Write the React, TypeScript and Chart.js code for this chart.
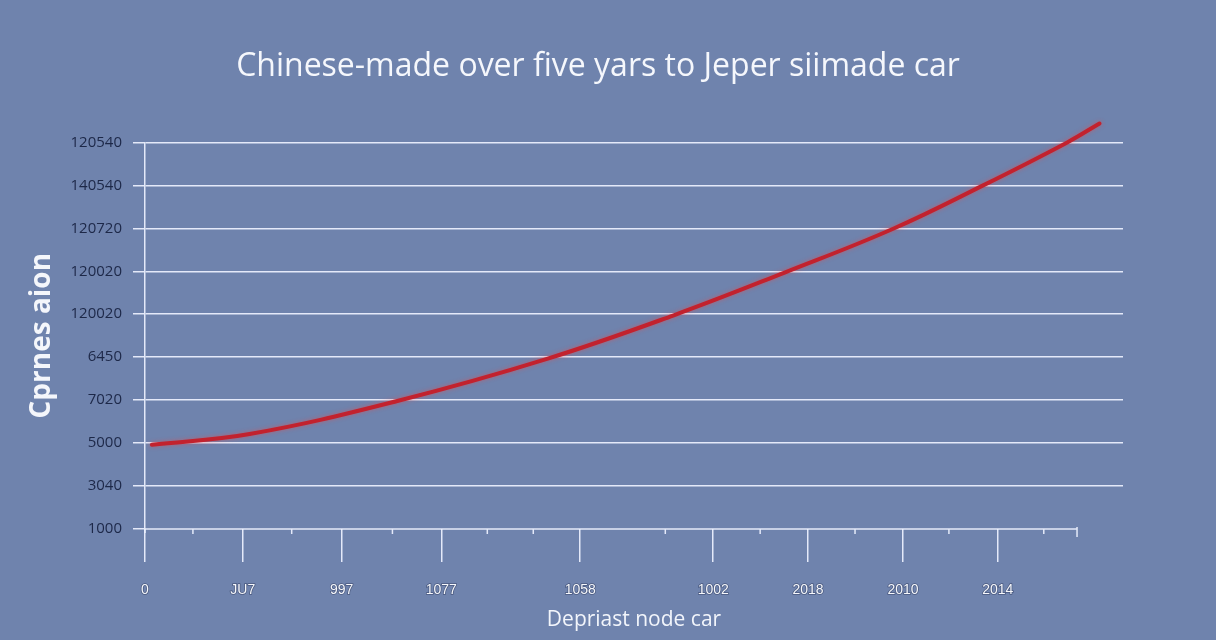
import React, { useEffect, useRef } from "react";
import { Chart, registerables } from "chart.js";

Chart.register(...registerables);

// ---- Data ----
const TITLE = "Chinese-made over five yars to Jeper siimade car";
const Y_TITLE = "Cprnes aion";
const X_TITLE = "Depriast node car";

// y tick labels, bottom to top (one per grid step)
const yTickLabels = ["1000", "3040", "5000", "7020", "6450", "120020", "120020", "120720", "140540", "120540"];

// x major ticks (position on the axis scale) and their labels
const xTickValues = [0, 1.0, 2.01, 3.03, 4.45, 5.81, 6.78, 7.75, 8.72];
const xTickLabels = ["0", "JU7", "997", "1077", "1058", "1002", "2018", "2010", "2014"];
// x minor ticks
const xMinorTicks = [0.49, 1.5, 2.53, 3.5, 3.97, 5.32, 6.29, 7.26, 8.22, 9.19];
const X_AXIS_END = 9.53;

// series (x position on axis scale, y in grid-step units)
const seriesX = [0.07, 1.07, 2.58, 4.11, 5.4, 6.54, 7.65, 8.57, 9.43, 9.76];
const seriesY = [1.96, 2.21, 2.98, 3.96, 4.97, 5.97, 6.99, 8.0, 9.0, 9.44];

const BG = "#6f83ad";
const GRID = "rgba(238,242,255,0.92)";

const xAxisDecor = {
  id: "xAxisDecor",
  beforeDatasetsDraw(chart: any) {
    const { ctx, scales } = chart;
    const x = scales.x;
    const y = scales.y;
    const yb = y.getPixelForValue(0);
    ctx.save();
    ctx.strokeStyle = GRID;
    ctx.lineWidth = 1.5;
    ctx.beginPath();
    ctx.moveTo(x.getPixelForValue(0), yb);
    ctx.lineTo(x.getPixelForValue(X_AXIS_END), yb);
    for (const v of xMinorTicks) {
      const px = x.getPixelForValue(v);
      ctx.moveTo(px, yb);
      ctx.lineTo(px, yb + 5);
    }
    const pe = x.getPixelForValue(X_AXIS_END);
    ctx.moveTo(pe, yb - 2);
    ctx.lineTo(pe, yb + 8);
    const px0 = x.getPixelForValue(0);
    ctx.moveTo(px0, yb);
    ctx.lineTo(px0, yb + 4);
    ctx.stroke();
    ctx.restore();
  },
  beforeDatasetDraw(chart: any) {
    const ctx = chart.ctx;
    ctx.save();
    ctx.shadowColor = "rgba(235,70,70,0.55)";
    ctx.shadowBlur = 4;
  },
  afterDatasetDraw(chart: any) {
    chart.ctx.restore();
  },
};

export default function App() {
  const ref = useRef<HTMLCanvasElement>(null);

  useEffect(() => {
    if (!ref.current) return;
    const chart = new Chart(ref.current, {
      type: "line",
      data: {
        datasets: [
          {
            data: seriesX.map((v, i) => ({ x: v, y: seriesY[i] })),
            borderColor: "#c2222e",
            borderWidth: 4,
            pointRadius: 0,
            tension: 0.4,
            clip: false as any,
            borderCapStyle: "round",
          },
        ],
      },
      plugins: [xAxisDecor],
      options: {
        animation: false,
        responsive: false,
        devicePixelRatio: 1,
        layout: { padding: { left: 0, right: 20, top: 0, bottom: 0 } },
        plugins: {
          legend: { display: false },
          tooltip: { enabled: false },
          title: {
            display: true,
            text: TITLE,
            color: "#f5f7fc",
            font: { family: "'Open Sans', sans-serif", size: 32, weight: "normal" },
            padding: { top: 48, bottom: 56 },
          },
        },
        scales: {
          x: {
            type: "linear",
            min: 0,
            max: 10,
            afterBuildTicks: (s: any) => {
              s.ticks = xTickValues.map((v) => ({ value: v }));
            },
            afterFit: (s: any) => {
              s.height = 111;
            },
            ticks: {
              autoSkip: false,
              maxRotation: 0,
              padding: 20,
              color: "#f6f8fc",
              textStrokeColor: "rgba(35,45,80,0.5)",
              textStrokeWidth: 1.5,
              font: { family: "'Liberation Sans', sans-serif", size: 14 },
              callback: (_v: any, i: number) => xTickLabels[i],
            },
            grid: {
              drawOnChartArea: false,
              tickLength: 33,
              color: GRID,
              tickColor: GRID,
              lineWidth: 1.5,
            },
            border: { display: false },
            title: {
              display: true,
              text: X_TITLE,
              color: "#f2f5fb",
              font: { family: "'Open Sans', sans-serif", size: 21 },
              padding: { top: 0, bottom: 7 },
            },
          },
          y: {
            type: "linear",
            position: "left",
            min: 0,
            max: 9,
            afterFit: (s: any) => {
              s.width = 145;
            },
            ticks: {
              stepSize: 1,
              padding: 11,
              color: "#1d2848",
              font: { family: "'Open Sans', sans-serif", size: 15 },
              callback: (v: any) => yTickLabels[Math.round(Number(v))],
            },
            grid: {
              color: (c: any) => (c.tick && c.tick.value === 0 ? "rgba(0,0,0,0)" : GRID),
              tickColor: GRID,
              tickLength: 12,
              lineWidth: 1.5,
            },
            border: { display: true, color: GRID, width: 1.5 },
            title: {
              display: true,
              text: Y_TITLE,
              color: "#f4f6fb",
              font: { family: "'Open Sans', sans-serif", size: 28, weight: "bold" },
              padding: { top: 25, bottom: 0 },
            },
          },
          yRight: {
            type: "linear",
            position: "right",
            display: true,
            afterFit: (s: any) => {
              s.width = 73;
            },
            ticks: { display: false },
            grid: { display: false },
            border: { display: false },
          },
        },
      } as any,
    });
    return () => chart.destroy();
  }, []);

  return (
    <div
      style={{
        position: "fixed",
        left: 0,
        top: 0,
        width: 1216,
        height: 640,
        background: BG,
      }}
    >
      <canvas ref={ref} width={1216} height={640} />
    </div>
  );
}
